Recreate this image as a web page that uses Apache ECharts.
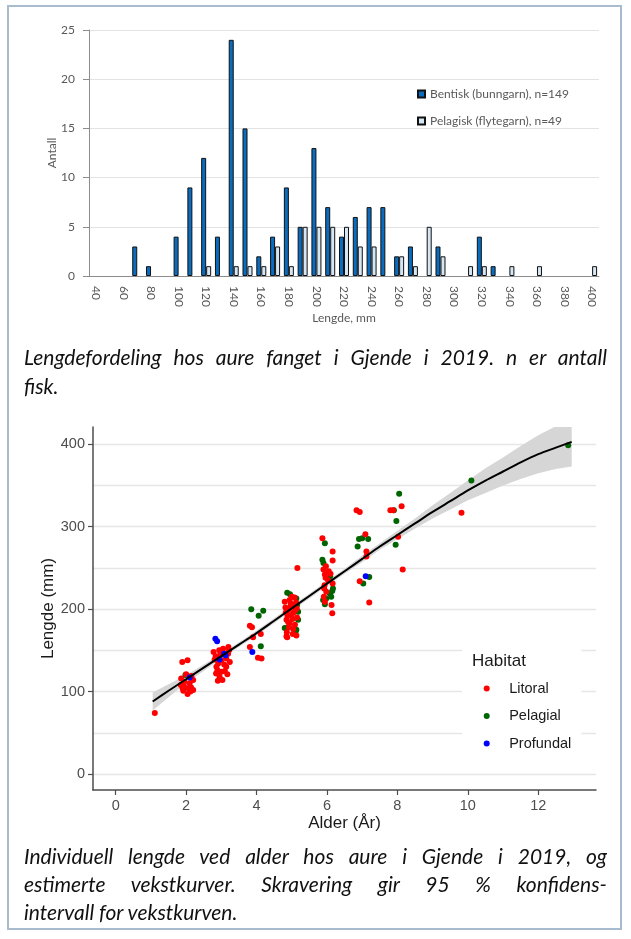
<!DOCTYPE html>
<html>
<head>
<meta charset="utf-8">
<script src="https://cdn.jsdelivr.net/npm/echarts@6.0.0/dist/echarts.min.js"></script>
<style>
  html, body { margin: 0; padding: 0; background: #fff; }
  #frame { position: absolute; left: 7px; top: 5px; width: 615px; height: 925px;
           border: 2px solid #a9bccf; box-sizing: border-box; }
  #chart { position: absolute; left: 0; top: 0; width: 631px; height: 939px; }
  .cap { position: absolute; left: 24px; width: 583px; font-family: Lato, "Open Sans", sans-serif;
         font-style: italic; font-size: 21px; line-height: 28px; color: #111; white-space: nowrap; }
  .full { text-align: justify; text-align-last: justify; }
</style>
</head>
<body>
<div id="chart"></div>
<div id="frame"></div>
<div class="cap full" style="top:343px">Lengdefordeling hos aure fanget i Gjende i 2019. n er antall</div>
<div class="cap" style="top:372px">fisk.</div>
<div class="cap full" style="top:842px">Individuell lengde ved alder hos aure i Gjende i 2019, og</div>
<div class="cap full" style="top:870px">estimerte vekstkurver. Skravering gir 95 % konfidens-</div>
<div class="cap" style="top:898px">intervall for vekstkurven.</div>
<script>
// ---- lengdefordeling (søylediagram) ----
var lengthCats = ['40','50','60','70','80','90','100','110','120','130','140','150','160','170','180','190',
    '200','210','220','230','240','250','260','270','280','290','300','310','320','330','340','350',
    '360','370','380','390','400'];
var bentisk = [0,0,0,3,1,0,4,9,12,4,24,15,2,4,9,5,13,7,4,6,7,7,2,3,0,3,0,0,4,1,0,0,0,0,0,0,0];
var pelagisk = [0,0,0,0,0,0,0,0,1,0,1,1,1,3,1,5,5,5,5,3,3,0,2,1,5,2,0,1,1,0,1,0,1,0,0,0,1];

// ---- lengde ved alder (punkter) ----
var litoral = [
    [1.11,74],
    [1.89,136],[2.04,138],[1.86,116],[1.85,108],[1.95,106],[2.06,104],[2.14,105],[2.2,114],[1.92,101],
    [2.04,97],[2.2,102],[1.95,112],[2.1,110],[2.0,121],[2.15,119],[1.9,104],[2.12,100],
    [2.94,150],[3.05,152],[3.2,154],[2.81,139],[2.91,134],[3.0,138],[3.14,140],[3.24,136],[2.89,126],
    [3.0,124],[3.1,125],[2.95,118],[3.03,114],[3.14,130],[2.86,130],[3.19,146],[2.84,143],[2.78,148],
    [3.22,150],[2.9,113],[3.08,133],[2.97,145],[3.17,121],[2.85,122],
    [3.81,180],[3.87,178],[3.9,166],[4.12,170],[3.81,154],[4.04,141],[4.14,140],
    [5.16,250],[4.8,209],[4.94,211],[5.07,205],[4.9,199],[4.99,193],[4.85,187],[4.94,183],[5.09,181],
    [5.04,176],[4.85,167],[5.13,168],[4.87,166],[5.0,215],[4.82,202],[5.12,208],[4.96,203],[5.05,196],
    [4.88,192],[5.15,190],[4.92,178],[5.02,188],[5.1,199],[4.83,196],[4.97,207],[5.08,214],[4.9,184],
    [5.14,201],[4.86,172],[5.03,170],
    [5.87,286],[6.16,270],[6.16,259],[5.97,252],[5.9,248],[6.05,246],[5.94,242],[6.03,235],[6.16,231],
    [5.93,229],[5.98,221],[5.91,215],[5.94,209],[6.13,205],[6.15,195],[5.96,238],[6.1,243],[5.92,225],
    [6.84,320],[6.93,318],[7.09,291],[7.12,270],[7.12,264],[6.93,234],[7.2,208],
    [8.12,325],[7.8,320],[7.88,320],[8.02,288],[8.15,248],
    [9.82,317]
];
var pelagial = [
    [1.98,120],[3.0,145],
    [3.85,200],[4.06,192],[4.19,198],[4.12,155],
    [4.87,220],[5.13,213],[5.18,197],[5.18,187],[4.8,177],[5.13,175],[4.87,177],[5.11,173],[4.95,218],[5.15,205],
    [5.94,280],[5.87,260],[5.9,256],[6.09,240],[6.17,225],[6.08,219],[5.98,213],[5.89,211],[5.94,206],
    [6.15,222],[6.12,215],
    [6.91,285],[7.17,285],[7.0,286],[6.87,276],[7.2,239],[7.03,231],
    [8.05,340],[7.9,320],[7.97,307],[7.95,278],
    [10.1,356],[12.85,399]
];
var profundal = [
    [2.1,117],[2.83,164],[2.88,161],[2.95,139],[3.08,146],[3.12,144],[3.88,148],[7.1,240]
];

// vekstkurve og konfidensbånd
var fitAge  = [1.05,1.5,2,2.5,3,3.5,4,4.5,5,5.5,6,6.5,7,7.5,8,8.5,9,9.5,10,10.5,11,11.5,12,12.5,12.95];
var fitLen  = [88,101,115,129,143,157,171,186,201,216,231,246,261,276,290,304,318,331,344,356,367,378,388,396,403];
var bandLow = [77,93,110,125,140,154,168,183,198,213,228,243,257,272,285,298,310,321,332,341,350,358,365,370,373];
var bandHigh= [99,109,120,133,146,160,174,189,204,219,234,249,265,280,295,310,326,341,356,371,384,398,411,422,433];

var ageTicks = [0,2,4,6,8,10,12];

var fitData = fitAge.map(function (a, i) { return [a, fitLen[i]]; });

var excelFont = 'Lato';
var ggFont = '"Liberation Sans", Arial, sans-serif';

function renderBand(params, api) {
    var pts = [];
    for (var i = 0; i < fitAge.length; i++) {
        pts.push(api.coord([fitAge[i], bandHigh[i]]));
    }
    for (var j = fitAge.length - 1; j >= 0; j--) {
        pts.push(api.coord([fitAge[j], bandLow[j]]));
    }
    var cs = params.coordSys;
    return {
        type: 'polygon',
        shape: { points: pts },
        style: { fill: '#d6d6d6' },
        clipPath: { type: 'rect', shape: { x: cs.x, y: cs.y, width: cs.width, height: cs.height } }
    };
}

var chart = echarts.init(document.getElementById('chart'));
var option = {
    animation: false,
    title: [{
        text: 'Habitat', left: 467, top: 648,
        textStyle: { fontFamily: ggFont, fontSize: 17, fontWeight: 'normal', color: '#1a1a1a' }
    }],
    legend: [{
        data: ['Bentisk (bunngarn), n=149', 'Pelagisk (flytegarn), n=49'],
        orient: 'vertical', left: 412, top: 83, itemGap: 15,
        icon: 'rect', itemWidth: 7, itemHeight: 7,
        textStyle: { fontFamily: excelFont, fontSize: 12, color: '#595959' }
    }, {
        data: ['Litoral', 'Pelagial', 'Profundal'],
        orient: 'vertical', left: 462, top: 647,
        padding: [34, 10, 7, 21.7], itemGap: 12.5,
        backgroundColor: '#fff',
        itemWidth: 35, itemHeight: 6,
        textStyle: { fontFamily: ggFont, fontSize: 14.5, color: '#1a1a1a' }
    }],
    grid: [
        { left: 89, top: 30, width: 510, height: 246 },
        { left: 93, top: 427, width: 503, height: 363 },
        { left: 93, top: 444.3, width: 503, height: 329.7 }
    ],
    xAxis: [{
        type: 'category', gridIndex: 0, data: lengthCats,
        name: 'Lengde, mm', nameLocation: 'middle', nameGap: 36, nameMoveOverlap: false,
        nameTextStyle: { fontFamily: excelFont, fontSize: 12, color: '#595959' },
        axisLine: { lineStyle: { color: '#8c8c8c' } },
        axisTick: { interval: 0, length: 5, lineStyle: { color: '#8c8c8c' } },
        axisLabel: { interval: 1, rotate: -90, margin: 10, fontFamily: excelFont, fontSize: 12, color: '#595959' }
    }, {
        type: 'value', gridIndex: 1, min: -0.645, max: 13.64,
        name: 'Alder (År)', nameLocation: 'middle', nameGap: 25,
        nameTextStyle: { fontFamily: ggFont, fontSize: 17, color: '#1a1a1a' },
        axisLine: { onZero: false, lineStyle: { color: '#4d4d4d', width: 1.5 } },
        axisTick: { show: true, customValues: ageTicks, length: 5, lineStyle: { color: '#4d4d4d', width: 1.2 } },
        axisLabel: { customValues: ageTicks, margin: 8, fontFamily: ggFont, fontSize: 14.5, color: '#4d4d4d' },
        splitLine: { show: false }
    }, {
        type: 'value', gridIndex: 2, show: false, min: 0, max: 1
    }],
    yAxis: [{
        type: 'value', gridIndex: 0, min: 0, max: 25, interval: 5,
        name: 'Antall', nameLocation: 'middle', nameGap: 31, nameMoveOverlap: false,
        nameTextStyle: { fontFamily: excelFont, fontSize: 12, color: '#595959' },
        axisLine: { show: true, lineStyle: { color: '#8c8c8c' } },
        axisTick: { show: true, length: 6, lineStyle: { color: '#8c8c8c' } },
        axisLabel: { margin: 14, fontFamily: excelFont, fontSize: 12, color: '#595959' },
        splitLine: { lineStyle: { color: '#e3e3e3' } }
    }, {
        type: 'value', gridIndex: 1, min: -19.4, max: 421,
        name: 'Lengde (mm)', nameLocation: 'middle', nameGap: 36,
        nameTextStyle: { fontFamily: ggFont, fontSize: 17, color: '#1a1a1a' },
        axisLine: { show: true, onZero: false, lineStyle: { color: '#4d4d4d', width: 1.5 } },
        axisTick: { show: false }, axisLabel: { show: false }, splitLine: { show: false }
    }, {
        type: 'value', gridIndex: 2, min: 0, max: 400, interval: 100,
        axisLine: { show: false },
        axisTick: { show: true, length: 5, lineStyle: { color: '#4d4d4d', width: 1.2 } },
        axisLabel: { margin: 8, fontFamily: ggFont, fontSize: 14.5, color: '#4d4d4d' },
        splitLine: { lineStyle: { color: '#e6e6e6', width: 1.3 } },
        minorTick: { show: false, splitNumber: 2 },
        minorSplitLine: { show: true, lineStyle: { color: '#e6e6e6', width: 1.3 } }
    }],
    series: [{
        name: 'Bentisk (bunngarn), n=149', type: 'bar', xAxisIndex: 0, yAxisIndex: 0,
        data: bentisk.map(function (v) { return v || null; }),
        barWidth: 5, barGap: '0%',
        itemStyle: { color: '#0a6cbe', borderColor: '#111', borderWidth: 1 }
    }, {
        name: 'Pelagisk (flytegarn), n=49', type: 'bar', xAxisIndex: 0, yAxisIndex: 0,
        data: pelagisk.map(function (v) { return v || null; }),
        barWidth: 5, barGap: '0%',
        itemStyle: { color: '#d5e6f5', borderColor: '#111', borderWidth: 1 }
    }, {
        name: 'ciBand', type: 'custom', xAxisIndex: 1, yAxisIndex: 1, silent: true,
        data: [[fitAge[0], fitLen[0]]], renderItem: renderBand, z: 1
    }, {
        name: 'Pelagial', type: 'scatter', xAxisIndex: 1, yAxisIndex: 1,
        data: pelagial, symbolSize: 6, itemStyle: { color: '#006400', opacity: 1 }
    }, {
        name: 'Litoral', type: 'scatter', xAxisIndex: 1, yAxisIndex: 1,
        data: litoral, symbolSize: 6, itemStyle: { color: '#ff0000', opacity: 1 }
    }, {
        name: 'Profundal', type: 'scatter', xAxisIndex: 1, yAxisIndex: 1,
        data: profundal, symbolSize: 6, itemStyle: { color: '#0000ff', opacity: 1 }
    }, {
        name: 'Vekstkurve', type: 'line', xAxisIndex: 1, yAxisIndex: 1,
        data: fitData, showSymbol: false, smooth: 0.3, silent: true, z: 4,
        lineStyle: { color: '#000', width: 2 }
    }]
};
chart.setOption(option);
</script>
</body>
</html>
